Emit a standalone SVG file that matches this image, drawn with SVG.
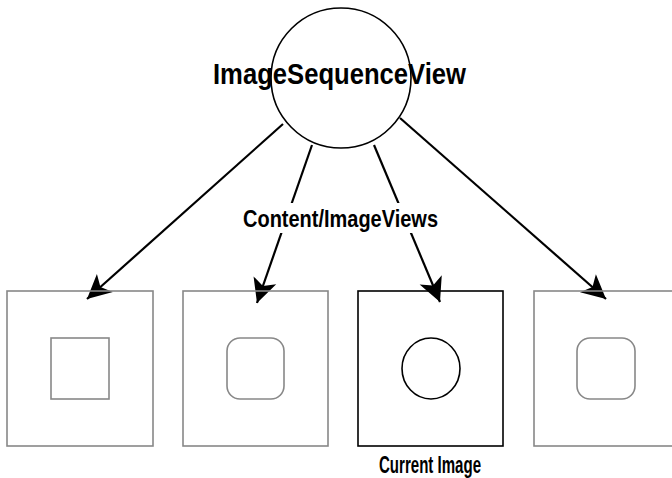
<svg xmlns="http://www.w3.org/2000/svg" width="672" height="478" viewBox="0 0 672 478">
<style>
.gray{fill:none;stroke:#888;stroke-width:1.6}
.blk{fill:none;stroke:#000;stroke-width:1.6}
.conn{stroke:#000;stroke-width:2.2;fill:none;marker-end:url(#ah)}
text{font-family:"Liberation Sans",Arial,sans-serif;fill:#000;font-weight:bold}
</style>
<defs>
<marker id="ah" markerUnits="userSpaceOnUse" markerWidth="28" markerHeight="28" viewBox="-26 -14 28 28" refX="0" refY="0" orient="auto">
<path d="M0,0 L-24,-12 L-18,0 L-24,12 Z" fill="#000"/>
</marker>
</defs>
<g id="connectors">
<line class="conn" x1="283" y1="124" x2="87" y2="299"/>
<line class="conn" x1="312" y1="145" x2="257" y2="303"/>
<line class="conn" x1="374" y1="145" x2="440" y2="302"/>
<line class="conn" x1="400" y1="118" x2="606" y2="299"/>
</g>
<g id="root">
<circle cx="341" cy="78" r="70" fill="#fff" stroke="#000" stroke-width="1.6"/>
<text x="213" y="84" font-size="30" textLength="253" lengthAdjust="spacingAndGlyphs">ImageSequenceView</text>
</g>
<g id="label">
<rect x="240" y="203" width="202" height="30" fill="#fff"/>
<text x="243" y="227" font-size="24" textLength="195" lengthAdjust="spacingAndGlyphs">Content/ImageViews</text>
</g>
<g id="view1">
<rect class="gray" x="7" y="291" width="146" height="155"/>
<rect class="gray" x="51" y="338" width="58" height="61"/>
</g>
<g id="view2">
<rect class="gray" x="183" y="291" width="145" height="155"/>
<rect class="gray" x="227" y="338" width="57" height="61" rx="13"/>
</g>
<g id="view3">
<rect class="blk" x="358" y="291" width="145" height="155"/>
<ellipse class="blk" cx="431" cy="368.5" rx="29" ry="30.5"/>
<text x="379" y="473" font-size="24" textLength="102" lengthAdjust="spacingAndGlyphs">Current Image</text>
</g>
<g id="view4">
<rect class="gray" x="534" y="291" width="145" height="155"/>
<rect class="gray" x="577" y="338" width="58" height="61" rx="13"/>
</g>
</svg>
